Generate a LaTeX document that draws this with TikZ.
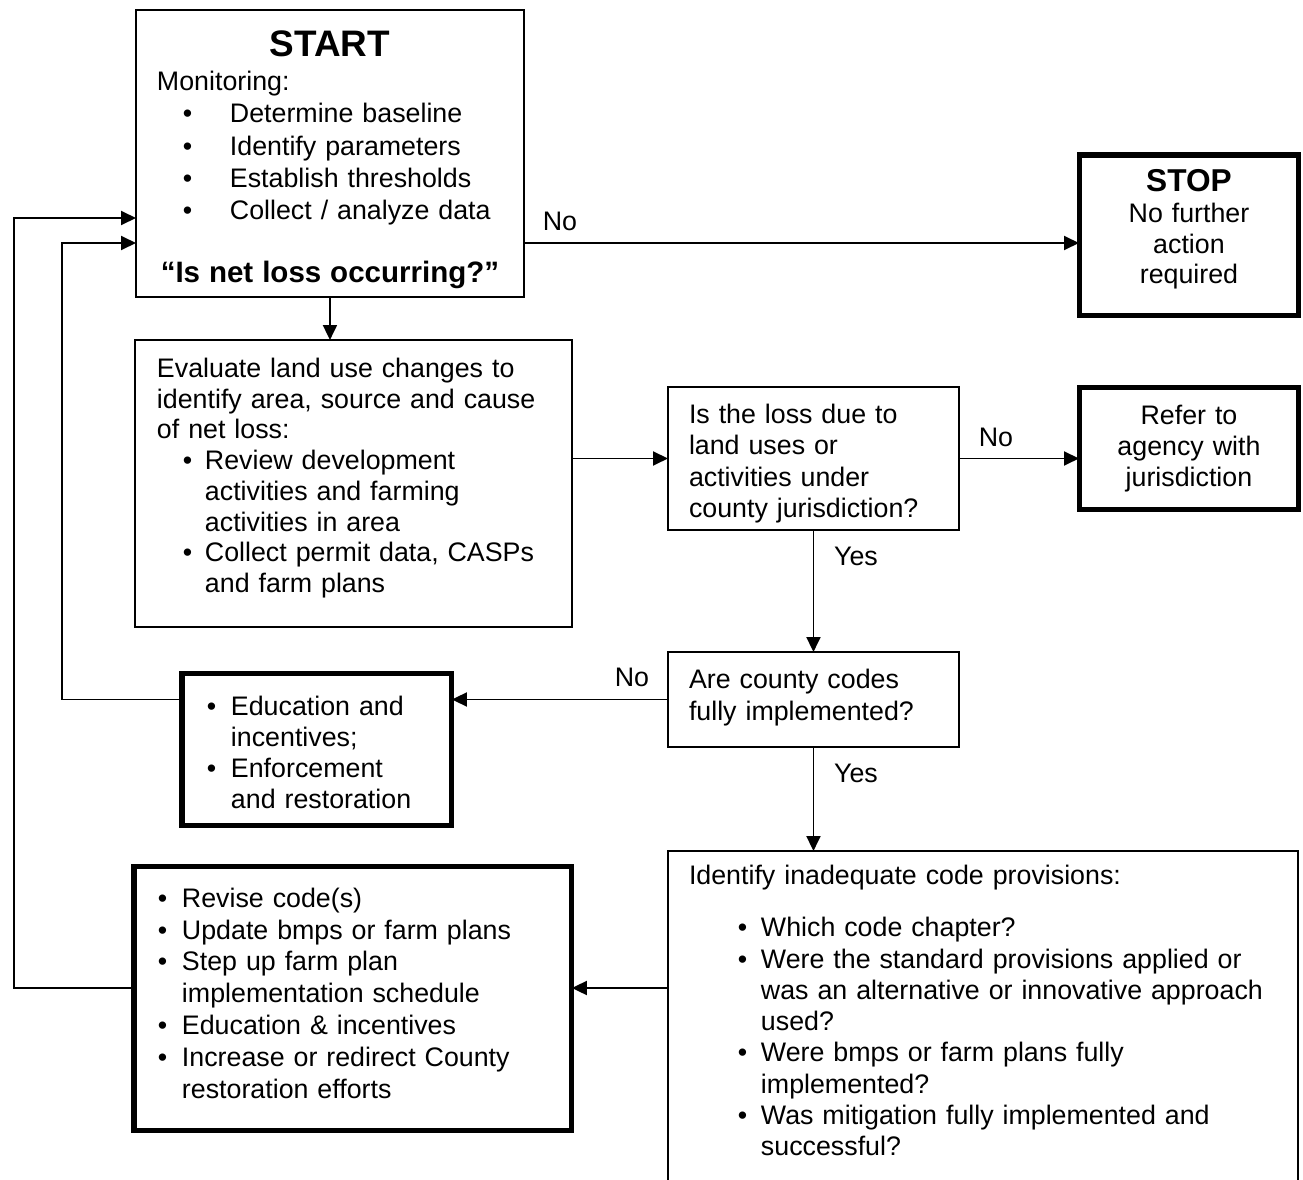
\documentclass[tikz,border=0pt]{standalone}
\usepackage{fontspec}
\setmainfont{Liberation Sans}
\usetikzlibrary{arrows.meta}

\newcommand{\bodyfont}{\fontsize{15.25}{17.8}\selectfont}
\newcommand{\bitem}[2]{\par\noindent\hangindent=#2\hangafter=1\hbox to #2{\hspace*{#1}\textbullet\hss}\ignorespaces}

\begin{document}
\begin{tikzpicture}[x=0.02cm, y=-0.02cm, >={Triangle[length=0.3cm, width=0.28cm]},
    box/.style={draw, line width=1.1pt, inner sep=0pt, outer sep=0pt, anchor=north west,
                align=left, font=\bodyfont},
    thickbox/.style={box, line width=2.85pt},
    arr/.style={->, line width=1.1pt},
    lbl/.style={inner sep=0pt, font=\bodyfont}]

    \useasboundingbox (0,0) rectangle (1303,1180);
    \clip (0,0) rectangle (1303,1180);

    % 1. start / stop
    \node[box, minimum width=7.76cm, minimum height=5.74cm, text width=6.92cm,
          font=\fontsize{15.25}{18.4}\selectfont] (start) at (136,10) {%
      {\centering\fontsize{21}{24}\selectfont\bfseries START\par}
      \vspace{0.04cm}
      \noindent Monitoring:
      \bitem{0.52cm}{1.46cm}Determine baseline
      \bitem{0.52cm}{1.46cm}Identify parameters
      \bitem{0.52cm}{1.46cm}Establish thresholds
      \bitem{0.52cm}{1.46cm}Collect / analyze data
      \par\vspace{0.54cm}
      {\centering\fontsize{16.8}{20}\selectfont\bfseries “Is net loss occurring?”\par}
      \kern-0.24cm};

    \node[thickbox, minimum width=4.4cm, minimum height=3.22cm, text width=4cm, align=center,
          font=\fontsize{15.25}{17.4}\selectfont] (stop) at (1079,155) {%
      {\fontsize{18}{20}\selectfont\bfseries STOP}\\No further\\action\\required\par\kern0.24cm};

    % 2. evaluate and questions
    \node[box, minimum width=8.74cm, minimum height=5.74cm, text width=7.86cm,
          font=\fontsize{15.25}{17.5}\selectfont] (eval) at (135,340) {%
      \noindent Evaluate land use changes to\newline identify area, source and cause\newline of net loss:
      \bitem{0.52cm}{0.96cm}Review development\newline activities and farming\newline activities in area
      \bitem{0.52cm}{0.96cm}Collect permit data, CASPs\newline and farm plans\par\kern0.22cm};

    \node[box, minimum width=5.82cm, minimum height=2.86cm, text width=4.98cm] (loss) at (668,387) {%
      \noindent Is the loss due to\newline land uses or\newline activities under\newline county jurisdiction?\par
      \kern-0.2cm};

    \node[thickbox, minimum width=4.4cm, minimum height=2.46cm, text width=4cm, align=center] (refer) at (1079,387) {%
      Refer to\\agency with\\jurisdiction};

    \node[box, minimum width=5.82cm, minimum height=1.9cm, text width=4.98cm] (codes) at (668,652) {%
      \noindent Are county codes\newline fully implemented?\par\kern0.08cm};

    % 3. actions
    \node[thickbox, minimum width=5.4cm, minimum height=3.06cm, text width=4.68cm] (educ) at (182,673) {%
      \bitem{0.14cm}{0.62cm}Education and\newline incentives;
      \bitem{0.14cm}{0.62cm}Enforcement\newline and restoration\par\kern0.12cm};

    \node[box, minimum width=12.6cm, minimum height=6.98cm, text width=11.76cm] (ident) at (668,851) {%
      \noindent Identify inadequate code provisions:\par\vspace{0.42cm}
      \bitem{0.98cm}{1.44cm}Which code chapter?
      \bitem{0.98cm}{1.44cm}Were the standard provisions applied or\newline was an alternative or innovative approach\newline used?
      \bitem{0.98cm}{1.44cm}Were bmps or farm plans fully\newline implemented?
      \bitem{0.98cm}{1.44cm}Was mitigation fully implemented and\newline successful?\par\kern0.6cm};

    \node[thickbox, minimum width=8.76cm, minimum height=5.3cm, text width=8.12cm,
          font=\fontsize{15.25}{18.1}\selectfont] (revise) at (134,866) {%
      \bitem{0.16cm}{0.64cm}Revise code(s)
      \bitem{0.16cm}{0.64cm}Update bmps or farm plans
      \bitem{0.16cm}{0.64cm}Step up farm plan\newline implementation schedule
      \bitem{0.16cm}{0.64cm}Education \& incentives
      \bitem{0.16cm}{0.64cm}Increase or redirect County\newline restoration efforts\par\kern0.46cm};

    % 4. connectors
    \coordinate (rowS) at (0,243);
    \coordinate (rowR) at (0,988);
    \coordinate (loopE) at (62,243);
    \coordinate (loopR) at (14,218);

    \draw[arr] (start.east |- rowS) -- (stop.west |- rowS);
    \draw[arr] (start.south) -- (start.south |- eval.north);
    \draw[arr] (eval.east |- loss.west) -- (loss.west);
    \draw[arr] (loss.east) -- (loss.east -| refer.west);
    \draw[arr] (loss.south) -- (loss.south |- codes.north);
    \draw[arr] (codes.west) -- (codes.west -| educ.east);
    \draw[arr] (codes.south) -- (codes.south |- ident.north);
    \draw[arr] (ident.west |- rowR) -- (rowR -| revise.east);
    \draw[arr] (codes.west -| educ.west) -| (loopE) -- (loopE -| start.west);
    \draw[arr] (revise.west |- rowR) -| (loopR) -- (loopR -| start.west);

    % labels
    \node[lbl] (noStop) at (560,221) {No};
    \node[lbl] (noRefer) at (996,437) {No};
    \node[lbl] (yesCodes) at (856,556) {Yes};
    \node[lbl] (noEduc) at (632,677) {No};
    \node[lbl] (yesIdent) at (856,773) {Yes};

\end{tikzpicture}
\end{document}
